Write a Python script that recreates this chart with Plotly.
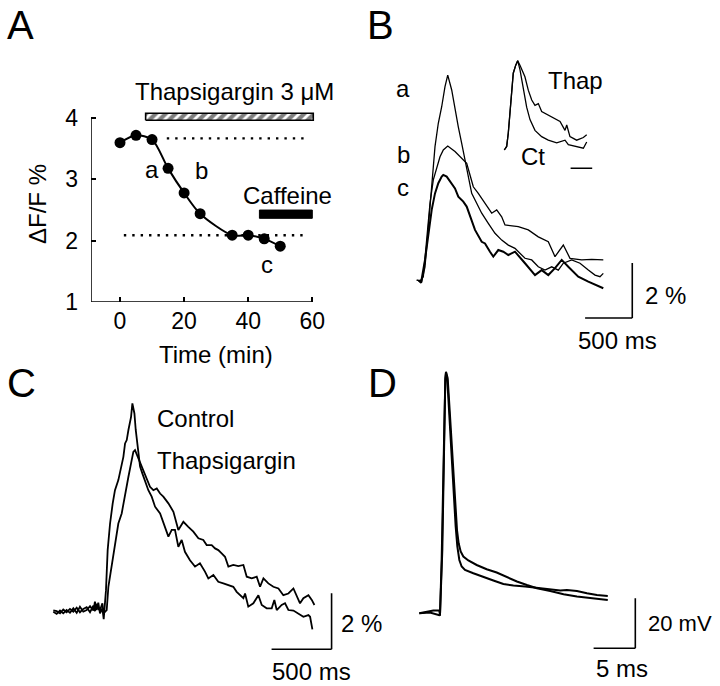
import plotly.graph_objects as go

W, H = 720, 686
FONT = "Liberation Sans, Arial, Helvetica, sans-serif"

# ---- A: amplitude vs time ----
a_time = [0, 5, 10, 15, 20, 25, 35, 40, 45, 50]
a_dff = [3.60, 3.72, 3.65, 3.18, 2.78, 2.44, 2.09, 2.09, 2.03, 1.91]
a_xticks = [0, 20, 40, 60]
a_yticks = [1, 2, 3, 4]
thap_on = [8, 60.3]
caff_on = [43.5, 60]
ctrl_level = [3.67, 14.6, 58.3]   # level, from, to
thap_level = [2.09, 1.2, 58.0]

# ---- B: transients a, b, c (ms, %) ----
b_t_a = [0, 53, 88, 123, 159, 194, 229, 265, 300, 329, 371, 406, 441, 477, 512, 547, 583, 636, 689, 759,
         830, 901, 971, 1042, 1148, 1219, 1289, 1360, 1431, 1501, 1554, 1643, 1731, 1819, 1890, 1943, 1978]
b_y_a = [0, -0.06, 0.48, 1.94, 3.39, 4.85, 5.70, 6.30, 7.03, 7.45, 6.91, 6.18, 5.57, 4.97, 4.36, 3.64, 3.15, 2.79, 2.43, 2.06,
         1.70, 1.45, 1.27, 1.15, 0.79, 0.73, 0.48, 0.36, 0.48, 0.36, 0.61, 0.73, 0.61, 0.36, 0.18, 0.12, 0.24]
b_t_b = [0, 35, 70, 106, 141, 176, 212, 247, 282, 329, 406, 477, 530, 565, 600, 653, 724, 795, 848, 901,
         936, 1077, 1183, 1289, 1395, 1466, 1554, 1625, 1749, 1855, 1978]
b_y_b = [0, -0.04, 0.12, 1.45, 2.79, 3.64, 4.12, 4.48, 4.73, 4.87, 4.67, 4.43, 4.24, 3.82, 3.39, 3.15, 2.79, 2.43, 2.55, 2.30,
         2.00, 1.94, 1.82, 1.57, 1.39, 0.85, 1.27, 0.79, 0.73, 0.75, 0.73]
b_t_c = [17, 46, 88, 123, 159, 194, 229, 265, 282, 318, 353, 406, 441, 494, 530, 565, 618, 689, 724, 777,
         812, 865, 918, 971, 1042, 1148, 1254, 1325, 1395, 1466, 1537, 1607, 1713, 1819, 1908, 1978]
b_y_c = [0, -0.10, 0.73, 1.70, 2.55, 3.15, 3.52, 3.76, 3.82, 3.76, 3.57, 3.33, 3.03, 2.85, 2.67, 2.30, 1.82, 1.39, 1.33, 1.03,
         0.85, 1.09, 1.03, 0.91, 1.03, 0.61, 0.18, 0.36, 0.18, 0.43, 0.73, 0.48, 0.12, -0.06, -0.18, -0.30]

# inset (normalised)
ins_t_ct = [0, 22, 37, 53, 69, 83, 106, 124, 145, 176, 207, 238, 284, 346, 407, 485, 562, 593, 670, 732, 763]
ins_y_ct = [0, 0.04, 0.19, 0.45, 0.71, 0.86, 0.95, 1.0, 0.90, 0.71, 0.48, 0.34, 0.22, 0.15, 0.11, 0.08, 0.11, 0.06, 0.04, 0.02, 0.09]
ins_t_thap = [0, 22, 37, 53, 69, 83, 106, 124, 145, 191, 222, 254, 284, 315, 346, 407, 469, 516, 562, 578, 608, 670, 732, 763]
ins_y_thap = [0, 0.04, 0.19, 0.45, 0.71, 0.86, 0.95, 1.0, 0.95, 0.82, 0.67, 0.56, 0.50, 0.52, 0.43, 0.39, 0.35, 0.32, 0.22, 0.28,
              0.15, 0.11, 0.14, 0.17]

# ---- C: control vs thapsigargin (ms, %) ----
c_t_base = [0, 28, 56, 83, 111, 139, 167, 195, 222, 250, 278, 306, 334, 347, 361, 375, 389, 409, 420]
c_y_base_ctrl = [0, -0.08, 0.04, -0.06, 0.06, -0.04, 0.12, -0.04, 0.18, 0, 0.06, 0.20, 0.04, 0.36, 0.06, 0.32, -0.06, 0.12, -0.27]
c_y_base_thap = [0.05, 0.02, -0.06, 0.08, -0.02, 0.10, 0.0, 0.14, -0.02, 0.10, 0.16, -0.02, 0.22, 0.02, 0.28, 0.10, 0.05, 0.30, -0.05]
c_t_ctrl = [439, 453, 473, 495, 514, 542, 564, 584, 598, 612, 626, 639, 648, 659, 676, 687, 703, 723, 742, 764,
            792, 820, 848, 890, 931, 959, 987, 1014, 1042, 1070, 1097, 1139, 1181, 1222, 1264, 1292, 1334, 1375, 1417, 1459,
            1500, 1528, 1556, 1584, 1598, 1625, 1667, 1709, 1737, 1778, 1820, 1842, 1862, 1903, 1931, 1959, 2001, 2043, 2084, 2126,
            2140, 2159]
c_y_ctrl = [0.77, 2.20, 3.15, 3.87, 4.34, 4.70, 5.18, 5.53, 6.01, 6.13, 6.49, 6.72, 6.96, 7.44, 7.08, 6.49, 5.89, 5.18, 4.94, 4.70,
            4.34, 4.11, 3.75, 3.51, 3.03, 2.68, 2.92, 2.92, 2.32, 2.56, 2.14, 1.84, 1.61, 1.73, 1.43, 1.19, 1.31, 1.07, 1.01, 0.95,
            0.89, 0.71, 0.59, 0.48, 0.65, 0.18, 0.30, 0.59, 0.24, 0.12, 0.12, 0.42, 0.06, 0.24, 0.30, 0.06, 0.04, -0.06, -0.18, -0.12,
            -0.18, -0.63]
c_t_thap = [445, 459, 487, 514, 542, 570, 598, 626, 648, 667, 681, 703, 723, 751, 778, 806, 834, 862, 890, 917,
            959, 1001, 1042, 1084, 1125, 1167, 1209, 1250, 1278, 1320, 1348, 1375, 1403, 1431, 1459, 1500, 1542, 1584, 1612, 1653,
            1695, 1723, 1751, 1792, 1834, 1876, 1917, 1959, 2001, 2028, 2056, 2084, 2126, 2154, 2176]
c_y_thap = [0.06, 0.89, 1.61, 2.44, 3.15, 3.51, 4.22, 4.82, 5.30, 5.71, 5.77, 5.53, 5.30, 5.06, 4.76, 4.46, 4.34, 4.40, 4.22, 4.11,
            3.87, 3.57, 2.92, 3.21, 3.03, 2.86, 2.62, 2.56, 2.38, 2.38, 2.26, 2.20, 2.08, 1.96, 1.61, 1.67, 1.63, 1.67, 1.25, 1.19,
            1.25, 0.89, 1.19, 1.01, 0.89, 0.83, 0.59, 0.65, 0.83, 0.54, 0.30, 0.48, 0.59, 0.42, 0.24]

# ---- D: action potentials (ms, mV) ----
d_t_1 = [0, 1.68, 2.4, 2.48, 2.68, 2.88, 3.0, 3.12, 3.2, 3.36, 3.56, 3.76, 3.96, 4.16, 4.36, 4.56, 4.8, 5.08, 5.48, 6.48,
         7.68, 8.88, 10.08, 11.28, 12.7, 14.1, 15.7, 16.9, 17.7, 18.9, 20.1, 21.3, 22.6]
d_v_1 = [0.3, 1.4, 1.4, -0.4, 21.6, 48.3, 74.9, 93.6, 96.5, 93.6, 81.6, 68.3, 55.0, 44.3, 35.0, 27.0, 21.6, 19.0, 17.6, 16.3,
         15.0, 13.4, 12.0, 11.4, 11.0, 10.4, 9.9, 9.4, 9.6, 9.2, 8.3, 7.6, 7.2]
d_t_2 = [0, 1.28, 2.4, 2.48, 2.76, 2.88, 3.0, 3.12, 3.2, 3.4, 3.64, 3.88, 4.08, 4.32, 4.52, 4.72, 4.96, 5.28, 5.88, 6.88,
         8.08, 9.28, 10.5, 11.7, 12.9, 14.1, 15.7, 17.3, 18.9, 20.5, 22.6]
d_v_2 = [0.3, 0.6, -0.5, -0.4, 25.6, 48.3, 76.3, 94.3, 96.9, 94.3, 81.6, 68.3, 55.0, 43.0, 33.6, 28.3, 25.0, 23.0, 21.4, 19.6,
         17.9, 16.6, 14.7, 13.0, 11.6, 10.3, 9.2, 7.9, 7.0, 6.3, 5.6]


# pixel origin + pixels per unit -> axis domain in paper units
def xdom(o, s, r):
    return [(o + r[0] * s) / W, (o + r[1] * s) / W]


def ydom(o, s, r):
    return [1 - (o - r[0] * s) / H, 1 - (o - r[1] * s) / H]


def px(x):
    return x / W


def py(y):
    return 1 - y / H


fig = go.Figure()
K = "black"

# panel A
xr_a, yr_a = [-9, 61], [1, 4.15]
fig.add_trace(go.Scatter(x=[thap_on[0], thap_on[1], thap_on[1], thap_on[0], thap_on[0]],
                         y=[3.965, 3.965, 4.078, 4.078, 3.965], mode="lines", fill="toself",
                         fillcolor="white",
                         fillpattern=dict(shape="/", fgcolor=K, bgcolor="white", size=7, solidity=0.6),
                         line=dict(color=K, width=1.6), xaxis="x", yaxis="y"))
fig.add_trace(go.Scatter(x=a_time, y=a_dff, mode="lines+markers",
                         line=dict(color=K, width=2, shape="spline", smoothing=0.8),
                         marker=dict(size=11, color=K), xaxis="x", yaxis="y"))

# panel B
xr_b, yr_b = [-150, 2400], [-2, 8]
for t, y, w in [(b_t_a, b_y_a, 1.3), (b_t_b, b_y_b, 1.3), (b_t_c, b_y_c, 2.0)]:
    fig.add_trace(go.Scatter(x=t, y=y, mode="lines", line=dict(color=K, width=w), xaxis="x2", yaxis="y2"))

# inset
xr_i, yr_i = [-50, 850], [-0.4, 1.15]
for t, y in [(ins_t_ct, ins_y_ct), (ins_t_thap, ins_y_thap)]:
    fig.add_trace(go.Scatter(x=t, y=y, mode="lines", line=dict(color=K, width=1.3), xaxis="x3", yaxis="y3"))

# panel C
xr_c, yr_c = [-100, 2450], [-1.6, 7.7]
fig.add_trace(go.Scatter(x=c_t_base + c_t_ctrl, y=c_y_base_ctrl + c_y_ctrl, mode="lines",
                         line=dict(color=K, width=1.8), xaxis="x4", yaxis="y4"))
fig.add_trace(go.Scatter(x=c_t_base + c_t_thap, y=c_y_base_thap + c_y_thap, mode="lines",
                         line=dict(color=K, width=1.8), xaxis="x4", yaxis="y4"))

# panel D
xr_d, yr_d = [-1, 27], [-16, 100]
fig.add_trace(go.Scatter(x=d_t_1, y=d_v_1, mode="lines", line=dict(color=K, width=2), xaxis="x5", yaxis="y5"))
fig.add_trace(go.Scatter(x=d_t_2, y=d_v_2, mode="lines", line=dict(color=K, width=2), xaxis="x5", yaxis="y5"))

hidden = dict(visible=False, showgrid=False, zeroline=False, automargin=False)
tickf = dict(family=FONT, size=23, color=K)

fig.update_layout(
    width=W, height=H, margin=dict(l=0, r=0, t=0, b=0, autoexpand=False),
    paper_bgcolor="white", plot_bgcolor="rgba(0,0,0,0)", showlegend=False,
    font=dict(family=FONT, size=24, color=K),
    xaxis=dict(domain=xdom(120, 3.205, xr_a), range=xr_a, anchor="y", tickvals=a_xticks,
               ticks="inside", ticklen=5, tickwidth=1.5, tickcolor=K, showline=False, automargin=False,
               showgrid=False, zeroline=False, tickfont=tickf, ticklabelstandoff=3),
    yaxis=dict(domain=ydom(363.3, 61.3, yr_a), range=yr_a, anchor="x", tickvals=a_yticks,
               ticks="inside", ticklen=5, tickwidth=1.5, tickcolor=K, showline=False, automargin=False,
               showgrid=False, zeroline=False, tickfont=tickf, ticklabelstandoff=12),
    xaxis2=dict(domain=xdom(416.7, 1 / 10.6, xr_b), range=xr_b, anchor="y2", **hidden),
    yaxis2=dict(domain=ydom(280, 27.5, yr_b), range=yr_b, anchor="x2", **hidden),
    xaxis3=dict(domain=xdom(504.3, 0.108, xr_i), range=xr_i, anchor="y3", **hidden),
    yaxis3=dict(domain=ydom(150, 89.3, yr_i), range=yr_i, anchor="x3", **hidden),
    xaxis4=dict(domain=xdom(53.3, 0.12, xr_c), range=xr_c, anchor="y4", **hidden),
    yaxis4=dict(domain=ydom(611.7, 28, yr_c), range=yr_c, anchor="x4", **hidden),
    xaxis5=dict(domain=xdom(419.3, 8.34, xr_d), range=xr_d, anchor="y5", **hidden),
    yaxis5=dict(domain=ydom(614, 2.5, yr_d), range=yr_d, anchor="x5", **hidden),
)


def seg(xr, yr, x0, y0, x1, y1, w=1.6, dash=None):
    ln = dict(color=K, width=w)
    if dash:
        ln["dash"] = dash
    return dict(type="line", xref=xr, yref=yr, x0=x0, y0=y0, x1=x1, y1=y1, line=ln)


shapes = [
    # axes of A
    seg("x", "y", -9, 1, 60, 1, 1.5),
    seg("x", "y", -9, 1, -9, 4, 1.5),
    # dotted reference levels
    seg("x", "y", ctrl_level[1], ctrl_level[0], ctrl_level[2], ctrl_level[0], 2.4, "2.4px,6px"),
    seg("x", "y", thap_level[1], thap_level[0], thap_level[2], thap_level[0], 2.4, "2.4px,6px"),
    # caffeine bar
    dict(type="rect", xref="x", yref="y", x0=caff_on[0], x1=caff_on[1], y0=2.365, y1=2.50,
         fillcolor=K, line=dict(color=K, width=1)),
    # scale bars B: 500 ms, 2 %
    seg("x2", "y2", 1785, -1.38, 2285, -1.38),
    seg("x2", "y2", 2285, -1.38, 2285, 0.62),
    # inset time bar
    seg("x3", "y3", 614, -0.205, 814, -0.205),
    # scale bars C
    seg("x4", "y4", 1819, -1.34, 2319, -1.34),
    seg("x4", "y4", 2319, -1.34, 2319, 0.66),
    # scale bars D: 5 ms, 20 mV
    seg("x5", "y5", 20.9, -13.7, 25.9, -13.7),
    seg("x5", "y5", 25.9, -13.7, 25.9, 6.3),
]
fig.update_layout(shapes=shapes)


def label(text, x, y, size=24, xanchor="center", angle=0):
    return dict(text=text, x=px(x), y=py(y), xref="paper", yref="paper", showarrow=False,
                xanchor=xanchor, yanchor="middle", textangle=angle,
                font=dict(family=FONT, size=size, color=K))


ann = [
    label("A", 20, 25, 40), label("B", 380, 25, 40), label("C", 21, 383, 40), label("D", 382, 383, 40),
    # A
    label("Thapsigargin 3 μM", 234, 92), label("Caffeine", 287, 195),
    label("a", 152, 169), label("b", 201, 171), label("c", 267, 265),
    label("ΔF/F %", 37, 204, angle=-90), label("Time (min)", 216, 354),
    # B
    label("a", 403, 88), label("b", 403, 154), label("c", 403, 187),
    label("Thap", 575, 81), label("Ct", 533, 157),
    label("2 %", 643, 295, xanchor="left"), label("500 ms", 617, 340),
    # C
    label("Control", 155, 418, xanchor="left"), label("Thapsigargin", 155, 460, xanchor="left"),
    label("2 %", 339, 623, xanchor="left"), label("500 ms", 311, 671),
    # D
    label("20 mV", 646, 623, size=22, xanchor="left"), label("5 ms", 622, 668),
]
fig.update_layout(annotations=ann)

# the page's default body margin would shift the fixed-size figure by 8 px
fig.write_html("out.html", config={"displayModeBar": False},
               post_script="document.body.style.margin = '0px';")
